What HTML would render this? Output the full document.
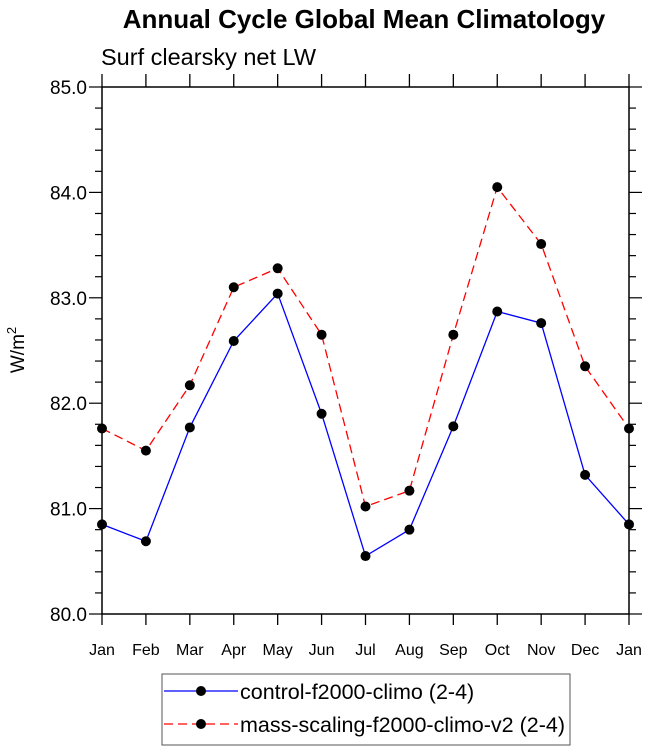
<!DOCTYPE html>
<html><head><meta charset="utf-8"><style>
body{margin:0;background:#fff;}
svg text{font-family:"Liberation Sans",sans-serif;}
</style></head><body>
<svg id="chart" width="648" height="751" xmlns="http://www.w3.org/2000/svg">
<text x="364" y="28" text-anchor="middle" font-size="26" font-weight="bold">Annual Cycle Global Mean Climatology</text>
<text x="101" y="65" font-size="23.5">Surf clearsky net LW</text>
<text transform="translate(24,350) rotate(-90)" text-anchor="middle" font-size="19">W/m<tspan dy="-8" font-size="13">2</tspan></text>
<g id="axes"></g>
<g id="series"></g>
<g>
<rect x="162" y="674" width="408" height="71" fill="none" stroke="#555" stroke-width="1"/>
<line x1="164" y1="691" x2="238" y2="691" stroke="#0000ff" stroke-width="1.3"/>
<circle cx="201" cy="691" r="5" fill="#000"/>
<text x="240" y="699" font-size="21.5">control-f2000-climo (2-4)</text>
<line x1="164" y1="724" x2="238" y2="724" stroke="#ff0000" stroke-width="1.3" stroke-dasharray="9,5"/>
<circle cx="201" cy="724" r="5" fill="#000"/>
<text x="240" y="732" font-size="21.5">mass-scaling-f2000-climo-v2 (2-4)</text>
</g>
</svg>
<script>
const months=["Jan","Feb","Mar","Apr","May","Jun","Jul","Aug","Sep","Oct","Nov","Dec","Jan"];
const controlValues=[80.85,80.69,81.77,82.59,83.04,81.90,80.55,80.80,81.78,82.87,82.76,81.32,80.85];
const massValues=[81.76,81.55,82.17,83.10,83.28,82.65,81.02,81.17,82.65,84.05,83.51,82.35,81.76];
const yTicks=["80.0","81.0","82.0","83.0","84.0","85.0"];
const X0=102,X1=629,Y0=614,Y1=87,ymin=80,ymax=85;
const NS="http://www.w3.org/2000/svg";
function xs(i){return X0+(X1-X0)*i/(months.length-1);}
function ys(v){return Y0-(Y0-Y1)*(v-ymin)/(ymax-ymin);}
function mk(tag,attrs,parent){const e=document.createElementNS(NS,tag);for(const k in attrs)e.setAttribute(k,attrs[k]);parent.appendChild(e);return e;}
const ax=document.getElementById('axes');
const frame=mk('rect',{x:X0,y:Y1,width:X1-X0,height:Y0-Y1,fill:'none',stroke:'#000','stroke-width':1.5},ax);


months.forEach((m,i)=>{const x=xs(i);
mk('line',{x1:x,y1:Y0,x2:x,y2:Y0+11,stroke:'#000','stroke-width':1.3},ax);
mk('line',{x1:x,y1:Y1,x2:x,y2:Y1-13,stroke:'#000','stroke-width':1.3},ax);
const t=mk('text',{x:x,y:Y0+41,'text-anchor':'middle','font-size':16},ax);t.textContent=m;

});
for(let k=0;k<=25;k++){const v=ymin+k*0.2,y=ys(v),maj=k%5===0,L=maj?13:7;
mk('line',{x1:X0,y1:y,x2:X0-L,y2:y,stroke:'#000','stroke-width':1.2},ax);
mk('line',{x1:X1,y1:y,x2:X1+L,y2:y,stroke:'#000','stroke-width':1.2},ax);}
yTicks.forEach(s=>{const t=mk('text',{x:X0-15,y:ys(parseFloat(s))+7,'text-anchor':'end','font-size':19},ax);t.textContent=s;

});
const sg=document.getElementById('series');
function draw(vals,color,dash,name){
const p=mk('polyline',{points:vals.map((v,i)=>xs(i)+','+ys(v)).join(' '),fill:'none',stroke:color,'stroke-width':1.3,'stroke-dasharray':dash},sg);


vals.forEach((v,i)=>{const c=mk('circle',{cx:xs(i),cy:ys(v),r:5,fill:'#000'},sg);

});}
draw(massValues,'#ff0000','9,5','mass-scaling');
draw(controlValues,'#0000ff','none','control');
</script>
</body></html>
